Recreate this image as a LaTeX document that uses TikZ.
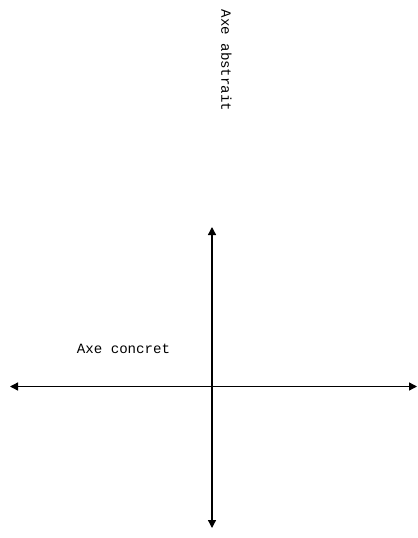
\documentclass[tikz,border=0pt]{standalone}
\usepackage{fontspec}
\setmainfont{Liberation Mono}
\usetikzlibrary{arrows.meta}

\begin{document}
\begin{tikzpicture}[x=0.75pt,y=-0.75pt,>={Triangle[length=6pt,width=6pt]},
  axe/.style={line width=1pt,<->},
  etiquette/.style={inner sep=0pt,font=\fontsize{10.6}{12}\selectfont}]
  \useasboundingbox (0,0) rectangle (417,538);

  % Axes
  \coordinate (gauche) at (10,386.5);
  \coordinate (droite) at (417,386.5);
  \coordinate (haut) at (212,227);
  \coordinate (bas) at (212,528);

  \draw[axe] (gauche) -- (droite);
  \draw[axe] (haut) -- (bas);

  % Noms des axes
  \node[etiquette] (concret) at (123.5,349) {Axe concret};
  \node[etiquette,rotate=-90] (abstrait) at (226.5,60.5) {Axe abstrait};
\end{tikzpicture}
\end{document}
